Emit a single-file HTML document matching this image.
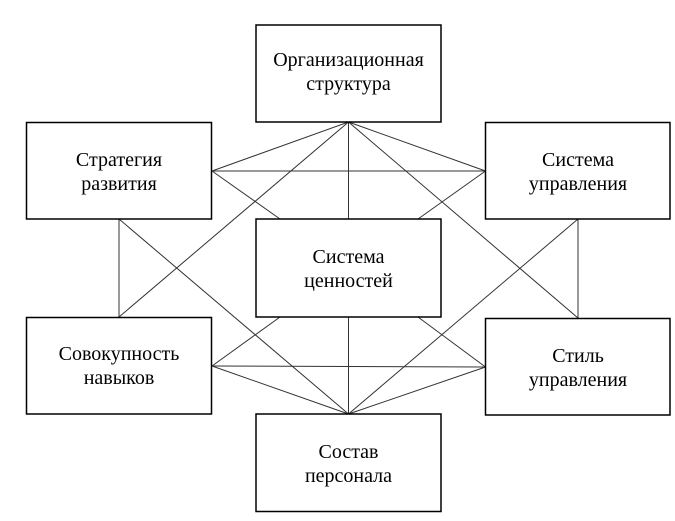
<!DOCTYPE html>
<html><head><meta charset="utf-8"><style>
html,body{margin:0;padding:0;background:#fff;}
svg{display:block}
text{font-family:"Liberation Serif","Times New Roman",serif;font-size:20px;fill:#000;text-anchor:middle}
</style></head><body>
<svg width="675" height="521" viewBox="0 0 675 521" xmlns="http://www.w3.org/2000/svg">
<g stroke="#333" stroke-width="1" fill="none">
<line x1="348.5" y1="122" x2="212" y2="171"/>
<line x1="348.5" y1="122" x2="485.5" y2="171"/>
<line x1="348.5" y1="122" x2="348.5" y2="219"/>
<line x1="348.5" y1="122" x2="119" y2="317"/>
<line x1="348.5" y1="122" x2="578" y2="318"/>
<line x1="212" y1="171" x2="485.5" y2="171"/>
<line x1="212" y1="171" x2="280" y2="219"/>
<line x1="485.5" y1="171" x2="418" y2="219"/>
<line x1="280" y1="317" x2="212" y2="366"/>
<line x1="418" y1="317" x2="485.5" y2="367"/>
<line x1="119" y1="219" x2="119" y2="317"/>
<line x1="119" y1="219" x2="348.5" y2="414"/>
<line x1="578" y1="219" x2="578" y2="318"/>
<line x1="578" y1="219" x2="348.5" y2="414"/>
<line x1="348.5" y1="414" x2="212" y2="366"/>
<line x1="348.5" y1="414" x2="485.5" y2="367"/>
<line x1="348.5" y1="414" x2="348.5" y2="317"/>
<line x1="212" y1="366" x2="485.5" y2="367"/>
</g>
<g stroke="#000" stroke-width="1.5" fill="#fff">
<rect x="256" y="25" width="185" height="97"/>
<rect x="26.5" y="122.5" width="185" height="96.5"/>
<rect x="485.5" y="122.5" width="184.5" height="96.5"/>
<rect x="256" y="219" width="185" height="98"/>
<rect x="26.5" y="317.5" width="185" height="96.5"/>
<rect x="485.5" y="318.5" width="184.5" height="96.5"/>
<rect x="256" y="414" width="185" height="97.5"/>
</g>
<text x="348.5" y="66">Организационная</text>
<text x="348.5" y="90">структура</text>
<text x="119" y="166">Стратегия</text>
<text x="119" y="190">развития</text>
<text x="578" y="166">Система</text>
<text x="578" y="190">управления</text>
<text x="348.5" y="263">Система</text>
<text x="348.5" y="287">ценностей</text>
<text x="119" y="360">Совокупность</text>
<text x="119" y="384">навыков</text>
<text x="578" y="362">Стиль</text>
<text x="578" y="386">управления</text>
<text x="348.5" y="458">Состав</text>
<text x="348.5" y="482">персонала</text>
</svg>
</body></html>
